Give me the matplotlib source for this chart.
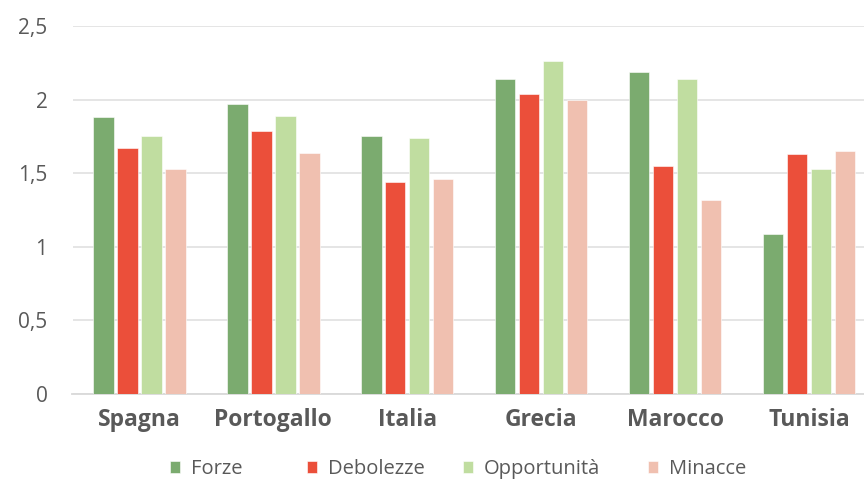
import numpy as np
import matplotlib.pyplot as plt

countries = ["Spagna", "Portogallo", "Italia", "Grecia", "Marocco", "Tunisia"]
series = ["Forze", "Debolezze", "Opportunità", "Minacce"]
forze = [1.88, 1.97, 1.75, 2.14, 2.19, 1.09]
debolezze = [1.67, 1.79, 1.44, 2.04, 1.55, 1.63]
opportunita = [1.75, 1.89, 1.74, 2.26, 2.14, 1.53]
minacce = [1.53, 1.64, 1.46, 2.00, 1.32, 1.65]
yticks = [0, 0.5, 1, 1.5, 2, 2.5]
ytick_labels = ["0", "0,5", "1", "1,5", "2", "2,5"]

colors = ["#7BAB6F", "#EB4F3A", "#C0DDA0", "#F0C0B0"]
grey = "#595959"

plt.rcParams['font.family'] = ['Open Sans', 'DejaVu Sans']

fig = plt.figure(figsize=(8.64, 4.79), dpi=100)
# plot area runs a little past the right edge, like the cropped original
ax = fig.add_axes([72.5 / 864, 85 / 479, (876 - 72.5) / 864, (394 - 26) / 479])

x = np.arange(len(countries))
slot = 0.179
handles = []
for i, (vals, name) in enumerate(zip([forze, debolezze, opportunita, minacce], series)):
    b = ax.bar(x + (i - 1.5) * slot, vals, width=0.152, color=colors[i], edgecolor="white",
               linewidth=0.4, label=name, zorder=3)
    handles.append(b)

ax.set_xlim(-0.5, len(countries) - 0.5)
ax.set_ylim(0, 2.5)
ax.set_yticks(yticks)
ax.set_yticklabels(ytick_labels, fontsize=15, color=grey)
ax.set_xticks(x)
ax.set_xticklabels(countries, fontsize=16.5, fontweight="bold", color=grey)
ax.tick_params(axis="both", length=0)
ax.tick_params(axis="y", pad=18)
ax.tick_params(axis="x", pad=10)
ax.yaxis.grid(True, color="#E3E3E3", linewidth=1.3, zorder=0)
for s in ["top", "right", "left"]:
    ax.spines[s].set_visible(False)
ax.spines["bottom"].set_color("#D9D9D9")
ax.spines["bottom"].set_linewidth(1.3)

# legend entries placed one by one, spaced like the original
leg_x = [170, 307, 463, 648]
for h, name, lx in zip(handles, series, leg_x):
    leg = fig.legend([h], [name], loc="center left", bbox_to_anchor=(lx / 864, 10 / 479),
                     frameon=False, fontsize=14.5, handlelength=0.5, handleheight=0.5,
                     handletextpad=0.55, borderaxespad=0, borderpad=0)
    leg.get_texts()[0].set_color(grey)

fig.savefig("out.png", dpi=100)
